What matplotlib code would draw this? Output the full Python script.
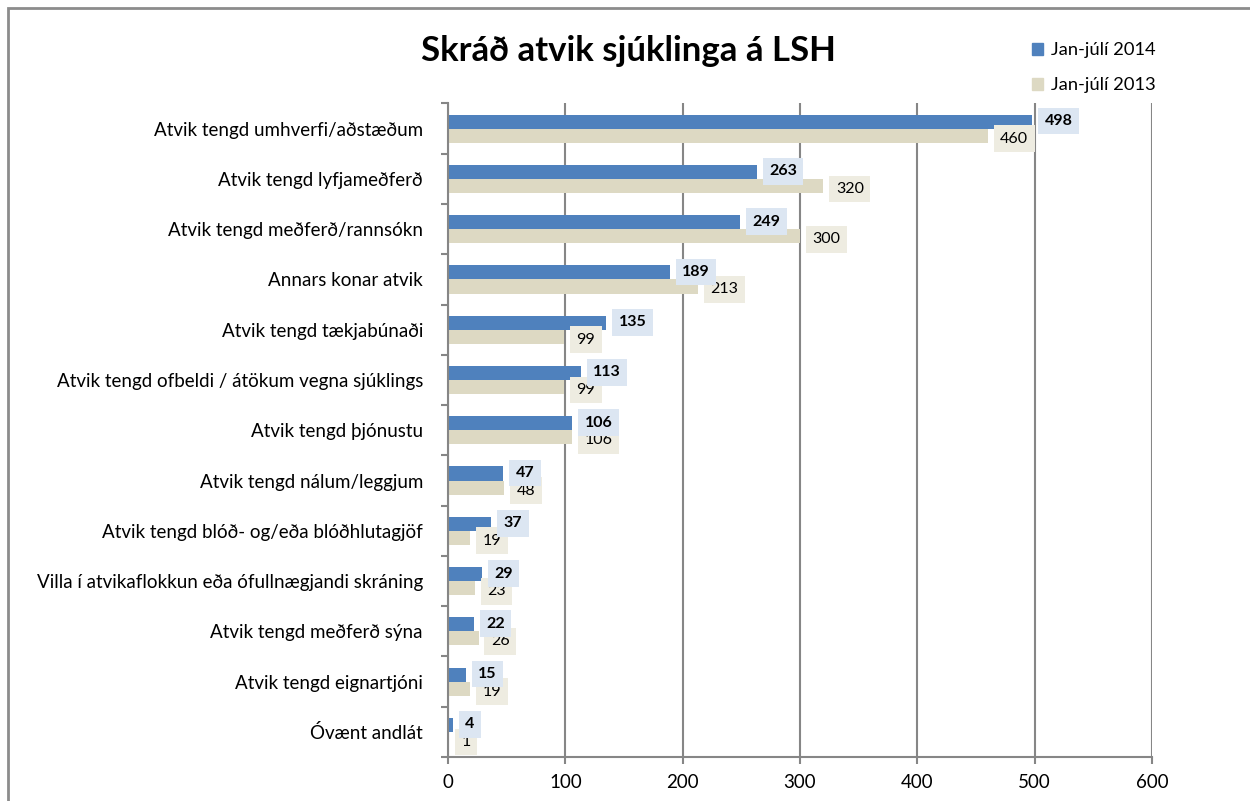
import numpy as np
import matplotlib.pyplot as plt
from matplotlib.patches import Rectangle, Patch

plt.rcParams['font.family'] = ['Lato', 'DejaVu Sans']

categories = ["Atvik tengd umhverfi/aðstæðum",
              "Atvik tengd lyfjameðferð",
              "Atvik tengd meðferð/rannsókn",
              "Annars konar atvik",
              "Atvik tengd tækjabúnaði",
              "Atvik tengd ofbeldi / átökum vegna sjúklings",
              "Atvik tengd þjónustu",
              "Atvik tengd nálum/leggjum",
              "Atvik tengd blóð- og/eða blóðhlutagjöf",
              "Villa í atvikaflokkun eða ófullnægjandi skráning",
              "Atvik tengd meðferð sýna",
              "Atvik tengd eignartjóni",
              "Óvænt andlát"]
v2014 = [498, 263, 249, 189, 135, 113, 106, 47, 37, 29, 22, 15, 4]
v2013 = [460, 320, 300, 213, 99, 99, 106, 48, 19, 23, 26, 19, 1]
xticks = [0, 100, 200, 300, 400, 500, 600]

blue = '#4f81bd'
beige = '#ddd9c3'
grey = '#868686'

fig = plt.figure(figsize=(12.5, 8.01), dpi=100)
ax = fig.add_axes([0.3584, 0.0549, 0.5632, 0.8159])

y = np.arange(len(categories))
h = 0.28
ax.barh(y - h/2, v2014, height=h, color=blue, zorder=2, label='Jan-júlí 2014')
ax.barh(y + h/2, v2013, height=h, color=beige, zorder=2, label='Jan-júlí 2013')

# data labels, beige under blue
for yi, v in zip(y, v2013):
    ax.annotate(str(v), (v, yi + h/2 + 0.06), xytext=(8.9, 0), textcoords='offset points',
                ha='left', va='center', fontsize=11.5, color='black', zorder=4,
                bbox=dict(boxstyle='square,pad=0.4', fc='#eeece1', ec='none'))
for yi, v in zip(y, v2014):
    ax.annotate(str(v), (v, yi - h/2 - 0.01), xytext=(8.9, 0), textcoords='offset points',
                ha='left', va='center', fontsize=11.5, fontweight='bold', color='black', zorder=5,
                bbox=dict(boxstyle='square,pad=0.4', fc='#dce6f2', ec='none'))

ax.set_xlim(0, 600)
ax.set_ylim(len(categories) - 0.5, -0.5)
ax.set_xticks(xticks)
ax.set_xticklabels([str(t) for t in xticks], fontsize=13.5)
ax.set_yticks(y)
ax.set_yticklabels(categories, fontsize=13.5)
ax.set_yticks(np.arange(len(categories) + 1) - 0.5, minor=True)
ax.tick_params(axis='y', which='major', length=0, pad=18)
ax.tick_params(axis='y', which='minor', length=5, width=1.5, color=grey, direction='out')
ax.tick_params(axis='x', length=5, width=1.5, color=grey, direction='out', pad=7)
ax.grid(axis='x', color=grey, linewidth=1.5, zorder=1)
ax.set_axisbelow(True)
for s in ['top', 'right']:
    ax.spines[s].set_visible(False)
for s in ['left', 'bottom']:
    ax.spines[s].set_color(grey)
    ax.spines[s].set_linewidth(1.5)

fig.text(0.503, 0.936, "Skráð atvik sjúklinga á LSH", ha='center', va='center',
         fontsize=25, fontweight='bold')

handles = [Patch(color=blue, label='Jan-júlí 2014'), Patch(color=beige, label='Jan-júlí 2013')]
fig.legend(handles=handles, loc='upper left', bbox_to_anchor=(0.812, 0.968), frameon=False,
           fontsize=13.2, handlelength=0.62, handleheight=0.62, handletextpad=0.45, labelspacing=1.05)

# chart frame (runs off the right and bottom edge)
fig.patches.append(Rectangle((8/1250, -0.05), 1.2, 1 - 8/801 + 0.05, transform=fig.transFigure,
                             fill=False, ec='#8c8c8c', lw=2, clip_on=False))

fig.savefig('out.png', dpi=100)
